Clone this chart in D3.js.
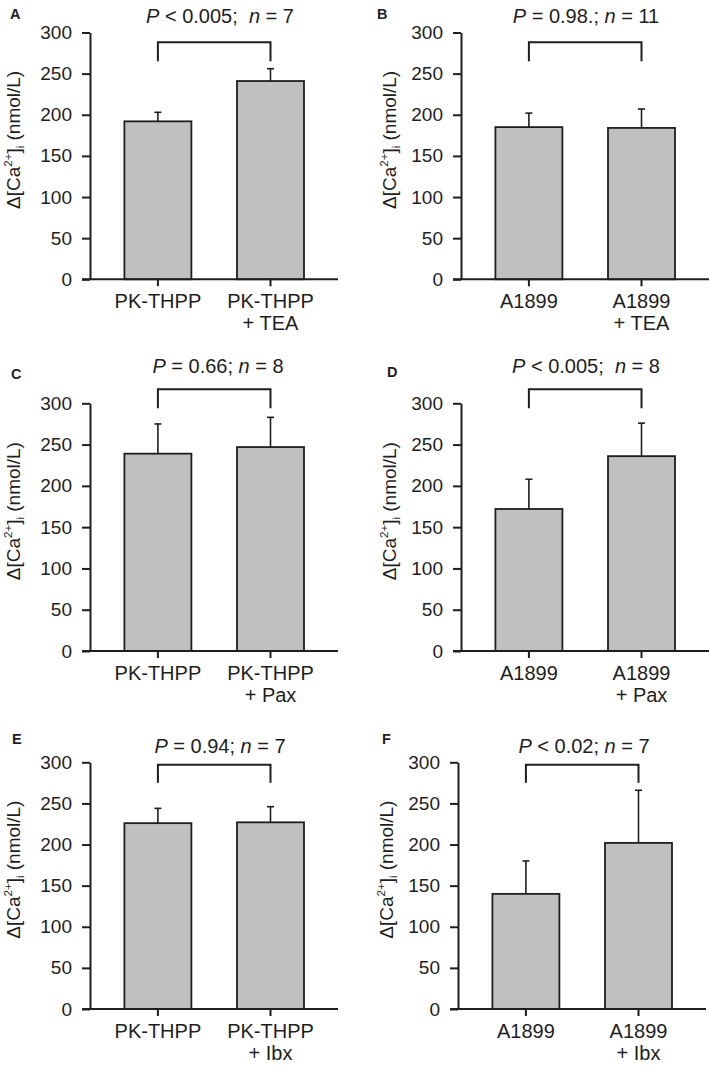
<!DOCTYPE html>
<html>
<head>
<meta charset="utf-8">
<script src="https://cdn.jsdelivr.net/npm/d3@7"></script>
<style>
  body { margin: 0; background: #fff; }
  text { font-family: "Liberation Sans", Arial, sans-serif; fill: #1e1e1e; }
</style>
</head>
<body>
<script>
var svg_width = 709;
var svg_height = 1071;

// DATA
var panelIds = ["A", "B", "C", "D", "E", "F"];
var conditions = [
  ["PK-THPP", "PK-THPP + TEA"],
  ["A1899", "A1899 + TEA"],
  ["PK-THPP", "PK-THPP + Pax"],
  ["A1899", "A1899 + Pax"],
  ["PK-THPP", "PK-THPP + Ibx"],
  ["A1899", "A1899 + Ibx"]
];
var means = [[192, 241], [185, 184], [239, 247], [172, 236], [226, 227], [140, 202]];
var errors = [[11, 15], [17, 23], [36, 36], [36, 40], [18, 19], [40, 64]];
var statP = ["< 0.005;", "= 0.98.;", "= 0.66;", "< 0.005;", "= 0.94;", "< 0.02;"];
var statN = [7, 11, 8, 8, 7, 7];
var bracketTop = [288, 288, 317, 317, 297, 297];
var bracketLeg = [265, 265, 294, 294, 275, 275];
var yTicks = [0, 50, 100, 150, 200, 250, 300];

// LAYOUT (pixels)
var layout = [
  {x: 90,  top: 32.5,  zero: 279.3, titleY: 23.3,  titleX: 220, letterX: 10,  letterY: 18.5, labelX: 20},
  {x: 461, top: 32.5,  zero: 279.3, titleY: 23.3,  titleX: 586, letterX: 377, letterY: 18.5, labelX: 396},
  {x: 90,  top: 403.3, zero: 651,   titleY: 373.3, titleX: 218, letterX: 11,  letterY: 379,  labelX: 20},
  {x: 461, top: 403.3, zero: 651,   titleY: 373.3, titleX: 586, letterX: 387, letterY: 377,  labelX: 396},
  {x: 90,  top: 762.3, zero: 1009,  titleY: 753.3, titleX: 220, letterX: 12,  letterY: 744,  labelX: 20},
  {x: 458, top: 762.3, zero: 1009,  titleY: 753.3, titleX: 584, letterX: 382, letterY: 743.5, labelX: 393}
];

var ink = "#1e1e1e";

var svg = d3.select("body").append("svg")
    .attr("width", svg_width)
    .attr("height", svg_height);

panelIds.forEach(function(id, i) {
  var L = layout[i];
  var g = svg.append("g");

  // SCALES
  var yScale = d3.scaleLinear().domain([0, 300]).range([L.zero, L.top]);
  var xScale = d3.scaleBand()
                 .domain(conditions[i])
                 .range([L.x + 34.4, L.x + 214])
                 .paddingInner(0.405);

  // bars
  g.selectAll("rect")
    .data(conditions[i])
    .enter()
    .append("rect")
      .attr("x", function(d) { return xScale(d); })
      .attr("y", function(d, j) { return yScale(means[i][j]); })
      .attr("width", xScale.bandwidth())
      .attr("height", function(d, j) { return yScale(0) - yScale(means[i][j]); })
      .attr("fill", "#c0c0c0")
      .attr("stroke", ink)
      .attr("stroke-width", 1.8);

  // error bars (upper only)
  var eb = g.selectAll(".err")
    .data(conditions[i])
    .enter()
    .append("g")
      .attr("class", "err")
      .attr("stroke", ink)
      .attr("stroke-width", 1.6);
  eb.append("line")
      .attr("x1", function(d) { return xScale(d) + xScale.bandwidth() / 2; })
      .attr("x2", function(d) { return xScale(d) + xScale.bandwidth() / 2; })
      .attr("y1", function(d, j) { return yScale(means[i][j]); })
      .attr("y2", function(d, j) { return yScale(means[i][j] + errors[i][j]); });
  eb.append("line")
      .attr("x1", function(d) { return xScale(d) + xScale.bandwidth() / 2 - 3.5; })
      .attr("x2", function(d) { return xScale(d) + xScale.bandwidth() / 2 + 3.5; })
      .attr("y1", function(d, j) { return yScale(means[i][j] + errors[i][j]); })
      .attr("y2", function(d, j) { return yScale(means[i][j] + errors[i][j]); });

  // AXES
  var yAxis = d3.axisLeft(yScale)
                .tickValues(yTicks)
                .tickSize(8)
                .tickSizeOuter(0)
                .tickPadding(10);
  var ya = g.append("g")
      .attr("transform", "translate(" + L.x + ",0)")
      .call(yAxis);
  ya.select(".domain").attr("stroke", ink).attr("stroke-width", 2);
  ya.selectAll(".tick line").attr("stroke", ink).attr("stroke-width", 2);
  ya.selectAll(".tick text")
      .attr("font-family", null)
      .attr("font-size", 19)
      .attr("fill", ink);

  g.append("line")
      .attr("x1", L.x - 8)
      .attr("x2", L.x + 248)
      .attr("y1", L.zero)
      .attr("y2", L.zero)
      .attr("stroke", ink)
      .attr("stroke-width", 2);

  var xAxis = d3.axisBottom(xScale).tickSize(7).tickSizeOuter(0);
  var xa = g.append("g")
      .attr("transform", "translate(0," + L.zero + ")")
      .call(xAxis);
  xa.select(".domain").remove();
  xa.selectAll(".tick line").attr("stroke", ink).attr("stroke-width", 2);
  xa.selectAll(".tick text").remove();
  xa.selectAll(".tick").each(function(d) {
    var parts = d.split(" + ");
    var t = d3.select(this).append("text")
        .attr("text-anchor", "middle")
        .attr("font-size", 20)
        .attr("fill", ink);
    t.append("tspan").attr("x", 0).attr("y", 29).text(parts[0]);
    if (parts.length > 1) {
      t.append("tspan").attr("x", 0).attr("y", 51).text("+ " + parts[1]);
    }
  });

  // bracket
  var c0 = xScale(conditions[i][0]) + xScale.bandwidth() / 2;
  var c1 = xScale(conditions[i][1]) + xScale.bandwidth() / 2;
  g.append("path")
      .attr("d", d3.line()([[c0, yScale(bracketLeg[i])], [c0, yScale(bracketTop[i])],
                            [c1, yScale(bracketTop[i])], [c1, yScale(bracketLeg[i])]]))
      .attr("fill", "none")
      .attr("stroke", ink)
      .attr("stroke-width", 2);

  // stats title
  var title = g.append("text")
      .attr("x", L.titleX)
      .attr("y", L.titleY)
      .attr("text-anchor", "middle")
      .attr("font-size", 20)
      .style("white-space", "pre");
  title.append("tspan").attr("font-style", "italic").text("P");
  title.append("tspan").text(" " + statP[i] + (statP[i].indexOf("0.005") >= 0 ? "  " : " "));
  title.append("tspan").attr("font-style", "italic").text("n");
  title.append("tspan").text(" = " + statN[i]);

  // panel letter
  g.append("text")
      .attr("x", L.letterX)
      .attr("y", L.letterY)
      .attr("font-size", 14.5)
      .attr("font-weight", "bold")
      .text(id);

  // y axis label
  var yl = g.append("text")
      .attr("transform", "translate(" + L.labelX + "," + ((L.zero + L.top) / 2 - 16) + ") rotate(-90)")
      .attr("text-anchor", "middle")
      .attr("font-size", 19);
  yl.append("tspan").text("\u0394[Ca");
  yl.append("tspan").attr("font-size", 11.5).attr("dy", -8).text("2+");
  yl.append("tspan").attr("dy", 8).text("]");
  yl.append("tspan").attr("font-size", 11.5).attr("dy", 4).text("i");
  yl.append("tspan").attr("dy", -4).text(" (nmol/L)");
});
</script>
</body>
</html>
